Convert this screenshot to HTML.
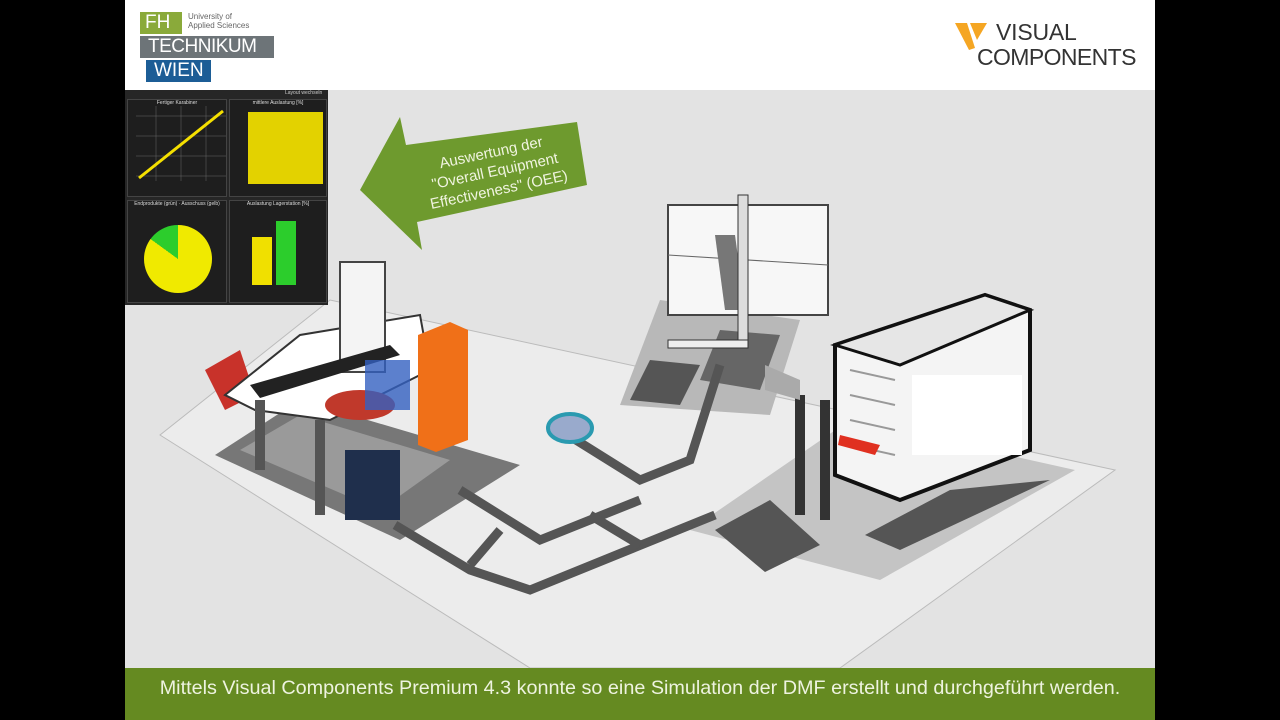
<!DOCTYPE html>
<html><head><meta charset="utf-8"><style>
*{margin:0;padding:0;box-sizing:border-box}
body{width:1280px;height:720px;background:#000;position:relative;overflow:hidden;font-family:"Liberation Sans",sans-serif}
.abs{position:absolute}
</style></head><body>
<div class="abs" style="left:125px;top:0;width:1030px;height:90px;background:#fff"></div>
<div class="abs" style="left:140px;top:12px;width:42px;height:22px;background:#8aaa3a;color:#fff;font-size:19px;line-height:22px;padding-left:5px">FH</div>
<div class="abs" style="left:188px;top:12px;font-size:8px;color:#666;line-height:9px">University of<br>Applied Sciences</div>
<div class="abs" style="left:140px;top:36px;width:134px;height:22px;background:#6d7478;color:#fff;font-size:19px;line-height:22px;padding-left:8px;letter-spacing:-0.5px">TECHNIKUM</div>
<div class="abs" style="left:146px;top:60px;width:65px;height:22px;background:#1c5d96;color:#fff;font-size:19px;line-height:22px;padding-left:8px">WIEN</div>
<svg class="abs" style="left:955px;top:20px" width="34" height="32"><polygon points="0,3 12,3 20,28 14,30" fill="#f5a623"/><polygon points="15,3 32,3 22,20" fill="#f5a623"/></svg>
<div class="abs" style="left:996px;top:20px;font-size:23px;color:#333;line-height:25px;letter-spacing:-0.2px">VISUAL</div>
<div class="abs" style="left:977px;top:45px;font-size:23px;color:#333;line-height:25px;letter-spacing:-0.6px">COMPONENTS</div>
<svg class="abs" style="left:125px;top:90px" width="1030" height="578" viewBox="125 90 1030 578">
<rect x="125" y="90" width="1030" height="578" fill="#e3e3e3"/>
<polygon points="160,435 330,300 1115,470 840,668 530,668" fill="#ececec" stroke="#bbb"/>
<polygon points="620,405 660,300 800,320 770,415" fill="#b8b8b8"/>
<polygon points="630,400 650,360 700,365 680,405" fill="#555"/>
<polygon points="700,380 720,330 780,335 760,390" fill="#666"/>
<polygon points="215,455 300,400 520,465 400,540" fill="#777"/>
<polygon points="240,450 300,415 450,460 380,510" fill="#9a9a9a"/>
<polygon points="690,530 850,420 1075,470 880,580" fill="#c4c4c4"/>
<polygon points="715,530 770,500 820,545 765,572" fill="#555"/>
<polygon points="865,535 950,490 1050,480 900,550" fill="#555"/>
<g stroke="#555" stroke-width="9" fill="none">
<polyline points="395,525 470,570 530,590 715,515"/>
<polyline points="460,490 540,540 640,500"/>
<polyline points="560,430 640,480 690,460 720,365"/>
<line x1="590" y1="515" x2="640" y2="545"/>
<line x1="500" y1="530" x2="470" y2="565"/>
</g>
<ellipse cx="570" cy="428" rx="22" ry="14" fill="#9ac" stroke="#2a9ab0" stroke-width="4"/>
<polygon points="205,370 240,350 255,395 225,410" fill="#c8322a"/>
<polygon points="225,395 300,335 420,315 430,370 330,420 255,410" fill="#fff" stroke="#333" stroke-width="2"/>
<rect x="340" y="262" width="45" height="110" fill="#f4f4f4" stroke="#444" stroke-width="2"/>
<polygon points="250,385 390,345 400,355 260,398" fill="#222"/>
<ellipse cx="360" cy="405" rx="35" ry="15" fill="#c0392b"/>
<rect x="365" y="360" width="45" height="50" fill="#3360c0" opacity=".8"/>
<rect x="345" y="450" width="55" height="70" fill="#1f2f4c"/>
<rect x="255" y="400" width="10" height="70" fill="#555"/>
<rect x="315" y="420" width="10" height="95" fill="#555"/>
<polygon points="418,335 450,322 468,330 468,440 436,452 418,445" fill="#f07018"/>
<rect x="668" y="205" width="160" height="110" fill="#f7f7f7" stroke="#444" stroke-width="2"/>
<polyline points="668,255 828,265" stroke="#666" fill="none"/>
<polygon points="715,235 735,235 745,310 725,310" fill="#777"/>
<rect x="738" y="195" width="10" height="150" fill="#ddd" stroke="#333"/>
<rect x="668" y="340" width="80" height="8" fill="#eee" stroke="#333"/>
<polygon points="835,345 985,295 1030,310 1030,450 900,500 835,475" fill="#f4f4f4" stroke="#111" stroke-width="4"/>
<polygon points="835,345 985,295 1030,310 900,365" fill="#e6e6e6" stroke="#111" stroke-width="3"/>
<rect x="912" y="375" width="110" height="80" fill="#fff"/>
<g stroke="#999" stroke-width="2"><line x1="850" y1="370" x2="895" y2="380"/><line x1="850" y1="395" x2="895" y2="405"/><line x1="850" y1="420" x2="895" y2="430"/><line x1="850" y1="445" x2="895" y2="455"/></g>
<polygon points="840,435 880,445 875,455 838,445" fill="#e03020"/>
<rect x="795" y="395" width="10" height="120" fill="#333"/>
<rect x="820" y="400" width="10" height="120" fill="#333"/>
<polygon points="765,365 800,380 800,400 765,390" fill="#aaa"/>
</svg>
<div class="abs" style="left:125px;top:90px;width:203px;height:215px;background:#262626">
 <div class="abs" style="left:160px;top:0;font-size:5px;color:#ccc">Layout wechseln</div>
 <div class="abs" style="left:2px;top:9px;width:100px;height:98px;background:#1e1e1e;border:1px solid #444"><div style="font-size:5px;color:#ddd;text-align:center">Fertiger Karabiner</div>
  <svg width="90" height="80" style="margin-left:8px"><g stroke="#666" stroke-width=".5"><line x1="0" y1="10" x2="90" y2="10"/><line x1="0" y1="30" x2="90" y2="30"/><line x1="0" y1="50" x2="90" y2="50"/><line x1="0" y1="70" x2="90" y2="70"/><line x1="20" y1="0" x2="20" y2="75"/><line x1="45" y1="0" x2="45" y2="75"/><line x1="70" y1="0" x2="70" y2="75"/></g><polyline points="3,72 87,5" stroke="#f5e000" stroke-width="3"/></svg></div>
 <div class="abs" style="left:104px;top:9px;width:98px;height:98px;background:#1e1e1e;border:1px solid #444"><div style="font-size:5px;color:#ddd;text-align:center">mittlere Auslastung [%]</div><div class="abs" style="left:18px;top:12px;width:75px;height:72px;background:#e3d200"></div></div>
 <div class="abs" style="left:2px;top:110px;width:100px;height:103px;background:#1e1e1e;border:1px solid #444"><div style="font-size:5px;color:#ddd;text-align:center">Endprodukte (grün) · Ausschuss (gelb)</div>
  <div class="abs" style="left:16px;top:24px;width:68px;height:68px;border-radius:50%;background:conic-gradient(#f0ea00 0 85%,#2ccd2c 85% 100%)"></div></div>
 <div class="abs" style="left:104px;top:110px;width:98px;height:103px;background:#1e1e1e;border:1px solid #444"><div style="font-size:5px;color:#ddd;text-align:center">Auslastung Lagerstation [%]</div>
  <div class="abs" style="left:22px;top:36px;width:20px;height:48px;background:#f0e000"></div><div class="abs" style="left:46px;top:20px;width:20px;height:64px;background:#2ccd2c"></div></div>
</div>
<svg class="abs" style="left:355px;top:112px" width="240" height="145"><polygon points="5,78 45,5 51,33 222,10 232,73 62,110 67,138" fill="#6e9a2e"/></svg>
<div class="abs" style="left:410px;top:143px;width:170px;text-align:center;color:#f0f4e0;font-size:15px;line-height:19px;transform:rotate(-12deg)">Auswertung der<br>"Overall Equipment<br>Effectiveness" (OEE)</div>
<div class="abs" style="left:125px;top:668px;width:1030px;height:52px;background:#658a21;color:#eef3e0;font-size:19.8px;text-align:center;padding-top:9px;white-space:nowrap">Mittels Visual Components Premium 4.3 konnte so eine Simulation der DMF erstellt und durchgeführt werden.</div>
</body></html>
